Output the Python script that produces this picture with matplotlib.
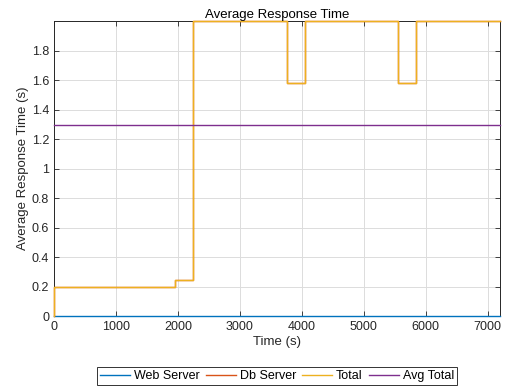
import matplotlib
matplotlib.use("Agg")
import matplotlib.pyplot as plt
import numpy as np

plt.rcParams['font.family'] = ['Liberation Sans', 'DejaVu Sans']

# Step change times (s) and values (s)
step_times = [0, 0, 1955, 2250, 3755, 4055, 5550, 5850, 7200]
web_values = [0, 0, 0, 0, 0, 0, 0, 0, 0]
db_values = [0, 0.2, 0.243, 1.998, 1.58, 1.998, 1.58, 1.998, 1.998]
total_values = [0, 0.2, 0.243, 1.998, 1.58, 1.998, 1.58, 1.998, 1.998]
avg_total = 1.293

series_names = ["Web Server", "Db Server", "Total", "Avg Total"]
colors = ["#0072BD", "#D95319", "#EDB120", "#7E2F8E"]

fig = plt.figure(figsize=(5.10, 3.86), dpi=100)
ax = fig.add_axes([0.1059, 0.1813, 0.8745, 0.7643])

lw = 1.0
kw = dict(lw=lw, zorder=3, clip_on=False)
ax.plot(step_times, web_values, drawstyle='steps-post', color=colors[0], label=series_names[0], **kw)
ax.plot(step_times, db_values, drawstyle='steps-post', color=colors[1], label=series_names[1], **kw)
ax.plot(step_times, total_values, drawstyle='steps-post', color=colors[2], label=series_names[2], **kw)
ax.plot([step_times[0], step_times[-1]], [avg_total, avg_total], color=colors[3], label=series_names[3], **kw)

ax.set_xlim(0, 7200)
ax.set_ylim(0, 2.0)
ax.set_xticks(np.arange(0, 7001, 1000))
ax.set_yticks(np.arange(0, 1.81, 0.2))
ax.set_yticklabels(["0", "0.2", "0.4", "0.6", "0.8", "1", "1.2", "1.4", "1.6", "1.8"])

ax.grid(True, color="#dcdcdc", lw=0.7)
ax.set_axisbelow(True)
ax.tick_params(direction='in', top=True, right=True, labelsize=9, length=3.5, width=0.6, colors='#262626')
for sp in ax.spines.values():
    sp.set_color('#262626')
    sp.set_linewidth(0.7)

ax.set_title("Average Response Time", fontsize=9.5, pad=2, color='black')
ax.set_xlabel("Time (s)", fontsize=9.5, labelpad=2, color='#262626')
ax.set_ylabel("Average Response Time (s)", fontsize=9.5, labelpad=2, color='#262626')

leg = fig.legend(loc='center', bbox_to_anchor=(0.543, 0.025), ncol=4, fontsize=9,
                 frameon=True, fancybox=False, edgecolor='black', handlelength=2.4,
                 handletextpad=0.3, columnspacing=0.5, borderpad=0.25)
leg.get_frame().set_linewidth(0.7)

fig.savefig("out.png", dpi=100)
